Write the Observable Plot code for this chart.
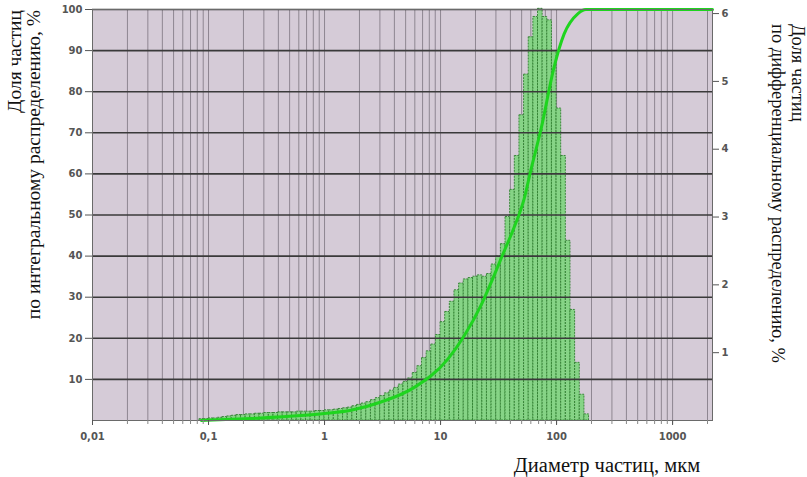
<!DOCTYPE html>
<html><head><meta charset="utf-8">
<script src="https://cdn.jsdelivr.net/npm/d3@7"></script>
<script src="https://cdn.jsdelivr.net/npm/@observablehq/plot@0.6"></script>
<style>body{margin:0;background:#fff;} #chart{width:807px;height:477px;}</style>
</head><body><div id="chart"></div>
<script>
// Size class edges, µm (instrument class grid)
const classEdges = [0.0832, 0.0912,
 0.1, 0.1096, 0.1202, 0.1318, 0.1445, 0.1585, 0.1738, 0.1905, 0.2089, 0.2291, 0.2512, 0.2754, 0.302, 0.3311, 0.3631, 0.3981, 0.4365, 0.4786, 0.5248, 0.5754, 0.631, 0.6918, 0.7586, 0.8318, 0.912,
 1, 1.096, 1.202, 1.318, 1.445, 1.585, 1.738, 1.905, 2.089, 2.291, 2.512, 2.754, 3.02, 3.311, 3.631, 3.981, 4.365, 4.786, 5.248, 5.754, 6.31, 6.918, 7.586, 8.318, 9.12,
 10, 10.96, 12.02, 13.18, 14.45, 15.85, 17.38, 19.05, 20.89, 22.91, 25.12, 27.54, 30.2, 33.11, 36.31, 39.81, 43.65, 47.86, 52.48, 57.54, 63.1, 69.18, 75.86, 83.18, 91.2,
 100, 109.6, 120.2, 131.8, 144.5, 158.5, 173.8, 190.5];
// Differential distribution, % (right axis)
const diffShare = [0.02,0.02,0.03,0.03,0.04,0.05,0.06,0.07,
 0.08,0.08,0.09,0.09,0.10,
 0.10,0.11,0.11,0.11,0.12,
 0.12,0.12,0.12,0.13,0.13,
 0.13,0.13,0.14,0.14,0.15,
 0.15,0.16,0.17,0.18,0.19,
 0.21,0.23,0.25,0.27,0.30,
 0.33,0.36,0.40,0.44,0.48,
 0.53,0.57,0.62,0.70,0.80,
 0.92,1.02,1.12,1.26,1.45,
 1.60,1.75,1.92,2.02,2.08,
 2.10,2.12,2.14,2.12,2.16,
 2.30,2.42,2.60,3.00,3.40,
 3.90,4.50,5.10,5.65,5.95,
 6.07,5.95,5.90,5.45,4.60,
 3.90,2.65,1.63,0.85,0.38,0.09];
// Integral (cumulative) distribution, % (left axis)
const cumSize  = [0.0867, 0.233, 0.63, 1.0, 1.69, 3.07, 5.9, 11.6, 15.9, 22.3, 27.2, 35.1, 43.1, 52.6, 60.1, 73.6, 95.2, 116, 153, 179, 2208];
const cumShare = [0, 0.5, 1.2, 1.7, 2.5, 4.5, 8, 15, 20.5, 28, 33.5, 41, 47, 54, 61, 71, 86, 94, 99, 100, 100];

const xTicks = [0.01, 0.1, 1, 10, 100, 1000];
const xTickLabels = ["0,01", "0,1", "1", "10", "100", "1000"];
const yLeftTicks = [10, 20, 30, 40, 50, 60, 70, 80, 90, 100];
const yRightTicks = [1, 2, 3, 4, 5, 6];
const rightMax = 6.06;
const xDomain = [0.01, 2208];

const bins = diffShare.map((v, i) => ({lo: classEdges[i], hi: classEdges[i + 1], v}));
const cum = cumSize.map((s, i) => ({s, p: cumShare[i]}));
const minorX = [];
for (const dec of [0.01, 0.1, 1, 10, 100, 1000]) for (let m = 1; m <= 9; m++) { const v = dec * m; if (v <= xDomain[1]) minorX.push(v); }

const svg = Plot.plot({
  width: 807, height: 477,
  marginLeft: 92, marginRight: 95, marginTop: 9, marginBottom: 57,
  style: {fontFamily: "DejaVu Sans", fontSize: "10px", background: "#fff", color: "#555"},
  x: {type: "log", domain: xDomain},
  y: {domain: [0, 100]},
  marks: [
    Plot.frame({fill: "#d5cbd7", stroke: null}),
    Plot.gridX(minorX, {stroke: "#8e8691", strokeOpacity: 1, strokeWidth: 1}),
    Plot.rectY(bins, {x1: "lo", x2: "hi", y: d => d.v * 100 / rightMax, fill: "#86d486", stroke: "#2f7f2f", strokeWidth: 0.9, strokeDasharray: "2,1"}),
    Plot.gridY(yLeftTicks, {stroke: "#3a3a3a", strokeOpacity: 1, strokeWidth: 1.6}),
    Plot.line(cum, {x: "s", y: "p", stroke: "#1fd41f", strokeWidth: 3, curve: "monotone-x"}),
    Plot.frame({stroke: "#6a6a6a", strokeWidth: 1}),
    Plot.axisX(minorX, {tickSize: 4, tickFormat: () => "", stroke: "#888", label: null}),
    Plot.axisX(xTicks, {tickSize: 5, tickPadding: 7, tickFormat: (d) => xTickLabels[xTicks.indexOf(d)], fontWeight: "bold", fill: "#555", label: null}),
    Plot.axisY(yLeftTicks, {tickSize: 7, tickPadding: 3, fontWeight: "bold", fill: "#555", label: null}),
    Plot.axisY(yRightTicks.map(v => v * 100 / rightMax), {anchor: "right", tickSize: 6, tickPadding: 3, tickFormat: d => String(Math.round(d * rightMax / 100)), fontWeight: "bold", fill: "#555", label: null})
  ]
});
document.getElementById("chart").appendChild(svg);

const s = d3.select(svg);
const serif = "'Liberation Serif', 'DejaVu Serif', serif";
function lab(txt, x, y, rot, anchor, size) {
  s.append("text").attr("transform", `translate(${x},${y}) rotate(${rot})`)
    .attr("text-anchor", anchor).attr("font-family", serif).attr("font-size", size)
    .attr("fill", "#111").text(txt);
}
lab("Доля частиц", 21, 10, -90, "end", 19.5);
lab("по интегральному распределению, %", 40, 10, -90, "end", 19.5);
lab("Доля частиц", 792, 24, 90, "start", 18.5);
lab("по дифференциальному распределению, %", 772, 24, 90, "start", 18.5);
lab("Диаметр частиц, мкм", 607, 472, 0, "middle", 20.5);
</script></body></html>
